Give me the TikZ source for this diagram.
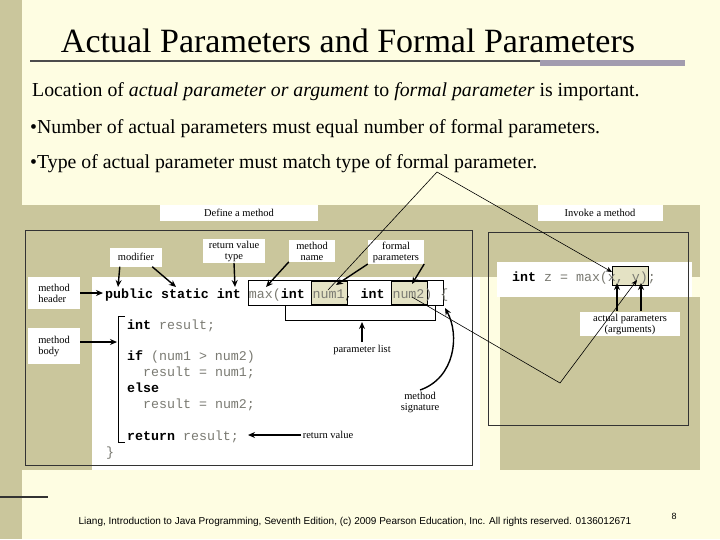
\documentclass[tikz,border=0pt]{standalone}
\usepackage{fontspec}
\setmainfont{Liberation Serif}
\setmonofont{Liberation Mono}
\setsansfont{Liberation Sans}
\usetikzlibrary{arrows.meta}
\definecolor{bgy}{HTML}{FEFDE2}
\definecolor{olive}{HTML}{CAC69C}
\definecolor{codegr}{HTML}{7A7A72}
\definecolor{shadec}{HTML}{E4E2C4}
\definecolor{barc}{HTML}{A29CAE}
\begin{document}
\begin{tikzpicture}[x=1pt,y=-1pt,
 lab/.style={fill=white,inner sep=1.5pt,font=\fontsize{10.5}{11}\selectfont,align=center},
 code/.style={anchor=base west,inner sep=0,font=\fontsize{13.3}{14}\ttfamily,text=codegr},
 arr/.style={-{Stealth[length=7pt,width=6pt]},line width=1.4pt},
 thin/.style={-{Stealth[length=6pt,width=5pt]},line width=0.6pt},
 txt/.style={anchor=base west,inner sep=0,font=\fontsize{19.8}{22}\selectfont}]
\useasboundingbox (0,0) rectangle (720,539);
\fill[bgy] (0,0) rectangle (720,539);
\fill[olive] (0,0) rectangle (22,539);
\draw[line width=1.6pt,black!80] (0,497) -- (48,497);
% title
\node[anchor=base,inner sep=0,font=\fontsize{34}{36}\selectfont] (title) at (348,52) {Actual Parameters and Formal Parameters};
\draw[line width=1.2pt,black!70] (30,61) -- (685,61);
\fill[barc] (540,60) rectangle (685,66);
\node[txt] (l1) at (32,96) {Location of \textit{actual parameter or argument} to \textit{formal parameter} is important.};
\node[txt] (l2) at (30,133) {•Number of actual parameters must equal number of formal parameters.};
\node[txt] (l3) at (30,168) {•Type of actual parameter must match type of formal parameter.};
% panels
\fill[olive] (22,205) rectangle (700,277);
\fill[olive] (22,277) rectangle (92,470);
\fill[white] (92,277) rectangle (480,470);
\fill[white] (497,262) rectangle (692,297);
\fill[olive] (500,297) rectangle (700,470);
\draw[line width=1pt,black!80] (25,230) rectangle (472,465);
\draw[line width=1pt,black!80] (488,232) rectangle (688,425);
\node[lab,minimum width=158pt,minimum height=16pt] (def) at (239,213) {Define a method};
\node[lab,minimum width=125pt,minimum height=16pt] (inv) at (600,213) {Invoke a method};
% code boxes
\fill[shadec] (311,281) rectangle (347,304);
\fill[shadec] (391,281) rectangle (427,304);
\draw[line width=0.8pt] (311,281) rectangle (347,304);
\draw[line width=0.8pt] (391,281) rectangle (427,304);
\draw[line width=0.8pt] (248,280) rectangle (443,305);
\draw[line width=0.8pt] (285,305) -- (285,320) -- (435,320) -- (435,305);
\fill[shadec] (612,266) rectangle (648,285);
\draw[line width=0.8pt] (612,266) rectangle (648,285);
% code
\node[code,text=black] (hdr) at (105,298) {\textbf{public static int} \textcolor{codegr}{max(}\textbf{int} \textcolor{codegr}{num1}, \textbf{int} \textcolor{codegr}{num2)} \textcolor{codegr}{\{}};
\coordinate (pub) at (118,287);
\coordinate (stat) at (176,287);
\coordinate (intk) at (235,287);
\coordinate (maxk) at (266,287);
\node[code] (c1) at (127,329) {\textcolor{black}{\textbf{int}} result;};
\node[code] (c2) at (127,360) {\textcolor{black}{\textbf{if}} (num1 > num2)};
\node[code] (c3) at (143,376) {result = num1;};
\node[code] (c4) at (127,392) {\textcolor{black}{\textbf{else}}};
\node[code] (c5) at (143,408) {result = num2;};
\node[code] (c6) at (127,440) {\textcolor{black}{\textbf{return}} result;};
\node[code] (c7) at (106,456) {\}};
\draw[line width=0.8pt] (125,316) -- (118,316) -- (118,442) -- (125,442);
\coordinate (body) at (117,342);
\node[code] (call) at (512,281) {\textcolor{black}{\textbf{int}} z = max(x, y);};
% labels
\node[lab,minimum width=52pt,minimum height=19pt] (mod) at (136,257) {modifier};
\node[lab,minimum width=62pt] (rvt) at (234,251) {return value\\type};
\node[lab,minimum width=46pt] (mn) at (312,251) {method\\name};
\node[lab,minimum width=56pt] (fp) at (396,252) {formal\\parameters};
\node[lab,minimum width=52pt,align=left,minimum height=32pt] (mh) at (54,293) {method\\header};
\node[lab,minimum width=52pt,align=left,minimum height=36pt] (mb) at (54,346) {method\\body};
\node[lab] (pl) at (362,350) {parameter list};
\node[lab] (ms) at (420,402) {method\\signature};
\node[lab] (rv) at (328,435) {return value};
\node[lab,minimum width=100pt] (ap) at (630,324) {actual parameters\\(arguments)};
% arrows
\draw[arr] (mod.south west)++(10,0) -- (pub);
\draw[arr] (mod.south east)++(-10,0) -- (stat);
\draw[arr] (rvt.south) -- (intk);
\draw[arr] (mn.south west) -- (maxk);
\draw[arr] (fp.south west) -- (336,285);
\draw[arr] (fp.south east) -- (412,284);
\draw[arr] (mh.east) -- (103,293);
\draw[arr] (mb.east |- body) -- (body);
\draw[arr] (rv.west) -- (248,435);
\draw[arr] (362,342) -- (362,322);
\draw[arr] (ms.north) .. controls (455,378) and (460,335) .. (445,308);
\draw[arr] (617,311) -- (617,283);
\draw[arr] (641,311) -- (641,283);
\coordinate (n1) at (328,290);
\coordinate (n2) at (412,297);
\coordinate (k1) at (437,172);
\coordinate (k2) at (560,383);
\draw[thin] (n1) -- (k1) -- (612,272);
\draw[thin] (n2) -- (k2) -- (637,280);
% footer
\node[inner sep=0,font=\fontsize{10}{11}\sffamily] (foot) at (355,522) {Liang, Introduction to Java Programming, Seventh Edition, (c) 2009 Pearson Education, Inc. All rights reserved. 0136012671};
\node[inner sep=0,font=\fontsize{9}{10}\sffamily] (pg) at (674,516) {8};
\end{tikzpicture}
\end{document}
